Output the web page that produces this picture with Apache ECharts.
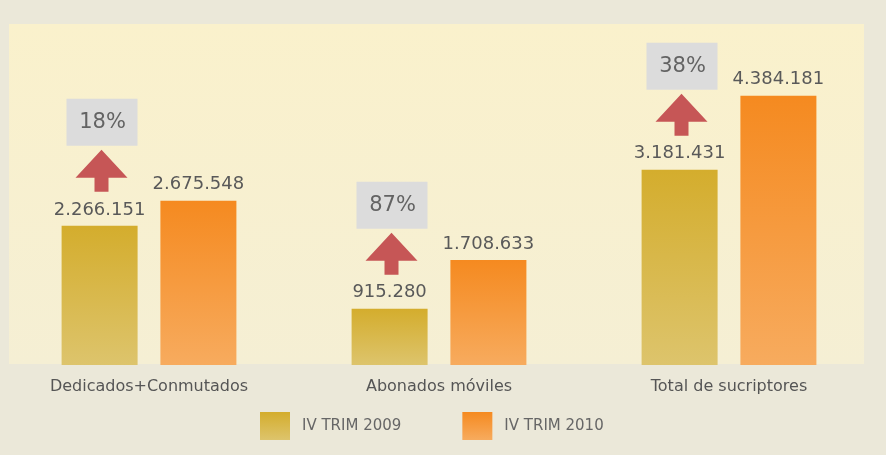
<!DOCTYPE html>
<html>
<head>
<meta charset="utf-8">
<script src="https://cdn.jsdelivr.net/npm/echarts@6/dist/echarts.min.js"></script>
<style>
  html, body { margin: 0; padding: 0; background: #ebe8d9; }
  #chart { width: 886px; height: 455px; }
</style>
</head>
<body>
<div id="chart"></div>
<script>
const categories = ["Dedicados+Conmutados", "Abonados móviles", "Total de sucriptores"];
const trim2009 = [2266151, 915280, 3181431];
const trim2010 = [2675548, 1708633, 4384181];
const growth = [18, 87, 38];

const FONT = "DejaVu Sans";

// 2.266.151 style thousands
const fmt = v => String(v).replace(/\B(?=(\d{3})+(?!\d))/g, ".");

const grad = (top, bottom) => new echarts.graphic.LinearGradient(0, 0, 0, 1, [
  { offset: 0, color: top },
  { offset: 1, color: bottom },
]);

const valueLabel = {
  show: true,
  position: "top",
  distance: 7,
  fontFamily: FONT,
  fontSize: 18,
  color: "#595959",
  formatter: p => fmt(p.value),
};

const chart = echarts.init(document.getElementById("chart"));

chart.setOption({
  backgroundColor: "#ebe8d9",
  animation: false,
  graphic: [
    {
      type: "rect",
      z: -10,
      shape: { x: 9, y: 24, width: 855, height: 340 },
      style: { fill: grad("#faf1cc", "#f5efd4") },
    },
  ],
  grid: { left: 4, right: 12, top: 58, bottom: 90 },
  legend: {
    data: ["IV TRIM 2009", "IV TRIM 2010"],
    left: 255,
    top: 407,
    icon: "rect",
    itemWidth: 30,
    itemHeight: 28,
    itemGap: 61,
    textStyle: { fontFamily: FONT, fontSize: 15, color: "#666", padding: [0, 0, 0, 7] },
  },
  xAxis: {
    type: "category",
    data: categories,
    axisLine: { show: false },
    axisTick: { show: false },
    axisLabel: { fontFamily: FONT, fontSize: 16, color: "#555", margin: 14 },
  },
  yAxis: {
    type: "value",
    min: 0,
    max: 5000000,
    show: false,
    splitLine: { show: false },
  },
  series: [
    {
      name: "IV TRIM 2009",
      type: "bar",
      data: trim2009,
      barWidth: 76,
      barGap: "30%",
      itemStyle: { color: grad("#d4ad2d", "#ddc46c") },
      label: valueLabel,
    },
    {
      name: "IV TRIM 2010",
      type: "bar",
      data: trim2010,
      barWidth: 76,
      itemStyle: { color: grad("#f58a20", "#f7ab5e") },
      label: valueLabel,
    },
    {
      // growth box + arrow above the 2009 bar
      type: "custom",
      z: 5,
      data: categories.map((c, i) => [i, trim2009[i], growth[i]]),
      renderItem: (params, api) => {
        const p = api.coord([api.value(0), api.value(1)]);
        const x = p[0] - 49.5 + 2;
        const T = p[1];
        return {
          type: "group",
          children: [
            {
              type: "rect",
              shape: { x: x - 35, y: T - 127, width: 71, height: 47 },
              style: { fill: "#dcdcdc" },
            },
            {
              type: "text",
              style: {
                text: api.value(2) + "%",
                x: x + 1,
                y: T - 103,
                align: "center",
                verticalAlign: "middle",
                font: "21px 'DejaVu Sans'",
                fill: "#636363",
              },
            },
            {
              type: "polygon",
              shape: {
                points: [
                  [x, T - 76], [x + 26, T - 48], [x + 7, T - 48], [x + 7, T - 34],
                  [x - 7, T - 34], [x - 7, T - 48], [x - 26, T - 48],
                ],
              },
              style: { fill: "#c65656" },
            },
          ],
        };
      },
    },
  ],
});
</script>
</body>
</html>
